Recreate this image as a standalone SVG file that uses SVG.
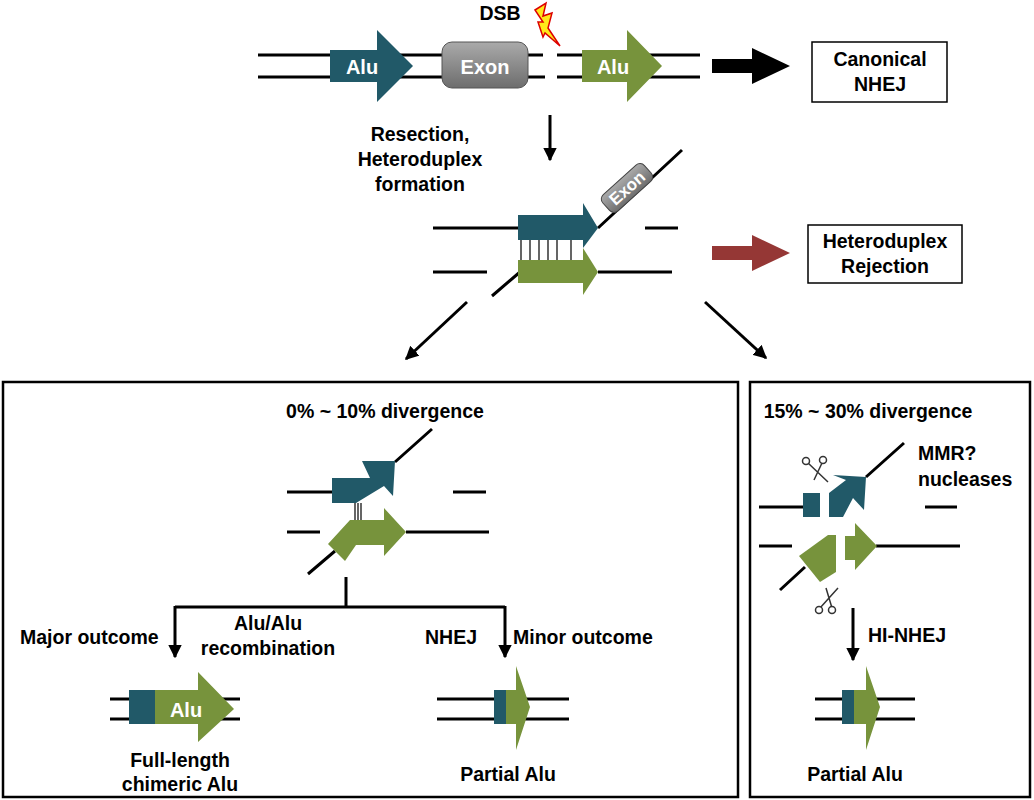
<svg xmlns="http://www.w3.org/2000/svg" width="1034" height="800" viewBox="0 0 1034 800">
<defs>
<style>
text{font-family:"Liberation Sans",Arial,sans-serif;font-weight:bold;font-size:19.5px;fill:#000}
.c{text-anchor:middle}
.w{fill:#fff;font-size:20px}
.s{stroke:#000;stroke-width:3;fill:none}
.t{stroke:#000;stroke-width:1.2}
.teal{fill:#215968}
.green{fill:#77933C}
.box{fill:#fff;stroke:#000;stroke-width:1.5}
.bigbox{fill:none;stroke:#000;stroke-width:2.5}
</style>
<linearGradient id="g" x1="0" y1="0" x2="0" y2="1"><stop offset="0" stop-color="#aaa"/><stop offset="1" stop-color="#6d6d6d"/></linearGradient>
<marker id="ah" viewBox="0 0 10 10" refX="9" refY="5" markerWidth="4.5" markerHeight="4.5" orient="auto"><path d="M0,0L10,5L0,10z" fill="#000"/></marker>
</defs>
<g id="connectors">
<path class="s" d="M550,115V160" marker-end="url(#ah)"/>
<path class="s" d="M467,302L406,359" stroke-width="4" marker-end="url(#ah)"/>
<path class="s" d="M705,302L766,358" stroke-width="4" marker-end="url(#ah)"/>
<path class="s" d="M346,577V607M175,607H505"/>
<path class="s" d="M175,606V657" marker-end="url(#ah)"/>
<path class="s" d="M505,606V657" marker-end="url(#ah)"/>
<path class="s" d="M853,608V660" marker-end="url(#ah)"/>
<path d="M712,59H752V48L790,66L752,84V73H712z" fill="#000"/>
<path d="M712,246H752V235L790,253L752,271V260H712z" fill="#953735"/>
</g>
<g id="dna-top">
<path class="s" d="M258,55H543M258,77H545M557,55H700M557,77H700"/>
<path class="teal" d="M330,50H377V30L413,66L377,102V82H330z"/>
<text class="w c" x="362" y="74">Alu</text>
<rect x="442" y="42" width="86" height="46" rx="10" fill="url(#g)" stroke="#555"/>
<text class="w c" x="485" y="74">Exon</text>
<path class="green" d="M582,50H627V30L662,66L627,102V82H582z"/>
<text class="w c" x="613" y="74">Alu</text>
<path d="M535,10L546,3L543,16L552,13L548,28L560,46L545,33L543,37L538,22L543,22z" fill="#ffe81a" stroke="#d00" stroke-width="1.5"/>
<text class="c" x="500" y="20">DSB</text>
</g>
<g id="canonical"><rect class="box" x="812" y="42" width="135" height="60"/><text class="c" x="880" y="66">Canonical</text><text class="c" x="880" y="91">NHEJ</text></g>
<g id="resection-label"><text class="c" x="420" y="141">Resection,</text><text class="c" x="420" y="166">Heteroduplex</text><text class="c" x="420" y="191">formation</text></g>
<g id="heteroduplex">
<path class="s" d="M433,228H518M645,228H678M433,272H487M598,272H672M598,228L682,150M492,296L520,272"/>
<path class="t" d="M521,240V260M530,240V260M539,240V260M548,240V260M557,240V260M571,240V260"/>
<path class="teal" d="M518,215H583V203L598,228L583,248V240H518z"/>
<path class="green" d="M518,260H583V248L598,272L583,295V283H518z"/>
<g transform="translate(627,188) rotate(-42)"><rect x="-28" y="-11" width="56" height="22" rx="6" fill="url(#g)" stroke="#444"/><text class="w c" x="0" y="6" style="font-size:17px">Exon</text></g>
</g>
<g id="rejection"><rect class="box" x="808" y="225" width="154" height="58"/><text class="c" x="885" y="248">Heteroduplex</text><text class="c" x="885" y="273">Rejection</text></g>
<g id="box-low">
<rect class="bigbox" x="3" y="382" width="735" height="415"/>
<text class="c" x="385" y="418">0% ~ 10% divergence</text>
<path class="s" d="M287,492H332M453,492H486M287,532H320M406,532H489M395,462L432,429M308,574L335,551"/>
<path class="teal" d="M332,478H370L362,461H395L393,496L384,486L356,503H332z"/>
<path class="t" d="M355,503V520M358,503V520M361,503V520"/>
<path class="green" d="M328,544L350,520H384V508L406,532L384,556V545H356L345,561z"/>
<text x="20" y="644">Major outcome</text>
<text class="c" x="268" y="630">Alu/Alu</text>
<text class="c" x="268" y="655">recombination</text>
<text x="425" y="644">NHEJ</text>
<text x="513" y="644">Minor outcome</text>
<path class="s" d="M110,699H240M110,719H240M437,699H569M437,719H569"/>
<rect class="teal" x="129" y="690" width="27" height="34"/>
<path class="green" d="M155,690H198V672L234,709L198,742V724H155z"/>
<text class="w c" x="186" y="717">Alu</text>
<text class="c" x="180" y="767">Full-length</text>
<text class="c" x="180" y="791">chimeric Alu</text>
<rect class="teal" x="494" y="690" width="12" height="34"/>
<path class="green" d="M506,690H516V666L530,707L516,750V724H506z"/>
<text class="c" x="508" y="781">Partial Alu</text>
</g>
<g id="box-high">
<rect class="bigbox" x="750" y="382" width="280" height="415"/>
<text class="c" x="868" y="418">15% ~ 30% divergence</text>
<text x="918" y="460">MMR?</text>
<text x="918" y="486">nucleases</text>
<path class="s" d="M759,507H803M925,507H957M759,546H792M876,546H960M866,477L904,443M780,590L805,567"/>
<rect class="teal" x="803" y="493" width="17" height="24"/>
<path class="teal" d="M829,517V493L846,480L833,475L866,477L864,510L853,498L843,517z"/>
<path class="green" d="M845,536H855V523L877,546L855,570V560H845z"/>
<path class="green" d="M799,556L828,535H836V572L820,582z"/>
<g id="sc1" transform="translate(802,460)" stroke="#333" stroke-width="1.5" fill="#fff"><path d="M6,3L26,22M20,3L12,20"/><circle cx="4" cy="1" r="3.5"/><circle cx="21" cy="0" r="3.5"/></g>
<g id="sc2" transform="translate(816,592)" stroke="#333" stroke-width="1.5" fill="#fff"><path d="M4,16L22,-4M16,16L10,-4"/><circle cx="3" cy="18" r="3.5"/><circle cx="16" cy="18" r="3.5"/></g>
<text x="868" y="642">HI-NHEJ</text>
<path class="s" d="M815,699H915M815,719H915"/>
<rect class="teal" x="842" y="690" width="12" height="34"/>
<path class="green" d="M854,690H866V666L880,707L866,750V724H854z"/>
<text class="c" x="855" y="781">Partial Alu</text>
</g>
</svg>
